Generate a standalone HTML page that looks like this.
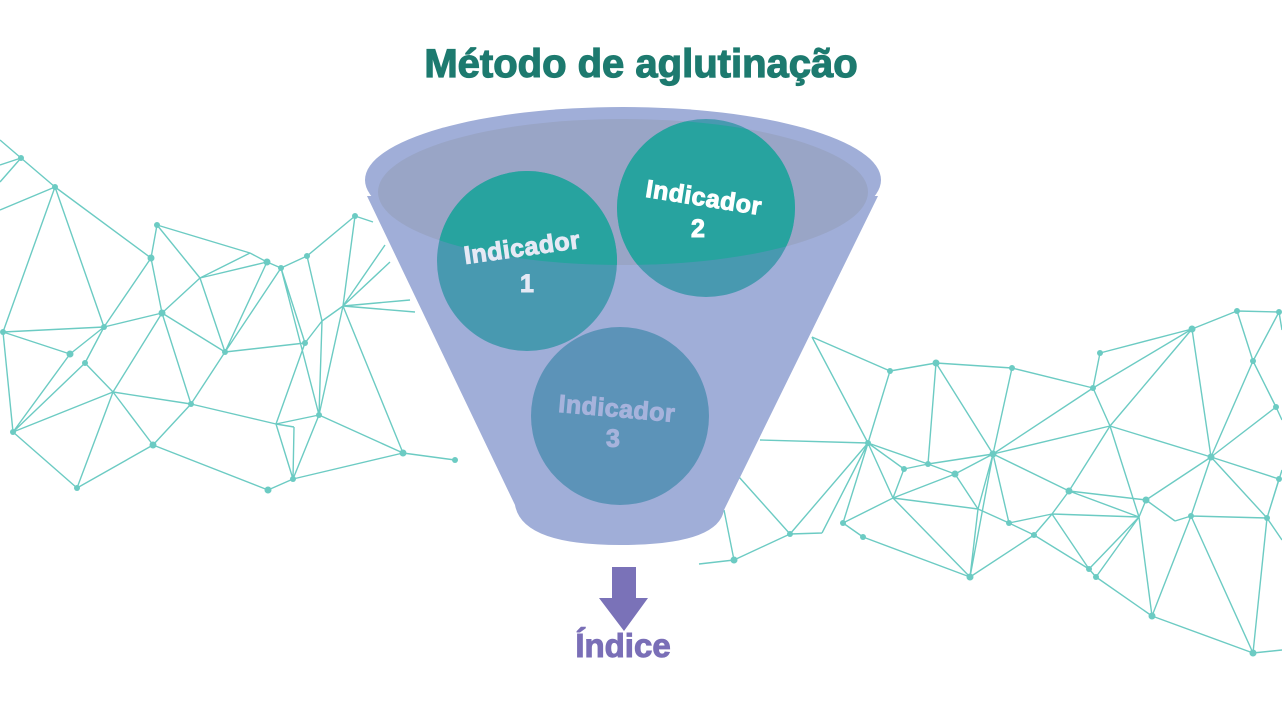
<!DOCTYPE html>
<html><head><meta charset="utf-8"><style>
html,body{margin:0;padding:0;background:#fff;width:1282px;height:720px;overflow:hidden}
svg{display:block}
</style></head><body>
<svg width="1282" height="720" viewBox="0 0 1282 720" xmlns="http://www.w3.org/2000/svg">
<defs>
<clipPath id="inner"><ellipse cx="623" cy="192" rx="245" ry="73"/></clipPath>
</defs>
<g stroke="#6ccbc3" stroke-width="1.4" fill="none">
<path d="M0,140L21,158M0,165L21,158M0,210L55,187M0,182L21,158M21,158L55,187
M55,187L151,258M55,187L3,332M55,187L104,327
M151,258L157,225M151,258L104,327M151,258L162,313M157,225L250,253M157,225L200,278
M200,278L250,253M200,278L162,313M200,278L267,262M200,278L225,352M250,253L267,262
M162,313L104,327M162,313L225,352M162,313L113,392M162,313L191,404
M104,327L3,332M104,327L70,354M104,327L85,363M3,332L70,354M3,332L13,432M70,354L13,432M85,363L13,432M85,363L113,392
M113,392L13,432M113,392L191,404M113,392L77,488M113,392L153,445M13,432L77,488M77,488L153,445M153,445L191,404M153,445L268,490
M191,404L225,352M191,404L276,424M225,352L267,262M225,352L281,268M225,352L305,343M267,262L281,268
M281,268L307,256M281,268L305,343M281,268L319,415M307,256L355,216M307,256L322,321M355,216L343,306M355,216L373,222
M322,321L343,306M305,343L322,321M305,343L276,424M322,321L319,415M343,306L319,415M276,424L319,415M276,424L294,427M294,427L293,479M276,424L293,479M319,415L293,479M293,479L268,490
M293,479L403,453M319,415L403,453M343,306L403,453M403,453L455,460M343,306L410,300M343,306L415,312M343,306L390,262M343,306L385,245"/>
<path d="M812,337L890,371M812,337L868,443M760,440L868,443M890,371L936,363M890,371L868,443M936,363L1012,368M936,363L928,464M936,363L993,454
M1012,368L1093,388M1012,368L993,454M1093,388L1100,353M1093,388L1192,329M1100,353L1192,329M1093,388L1110,426M1093,388L993,454
M1192,329L1237,311M1237,311L1279,312M1237,311L1253,361M1192,329L1110,426M1192,329L1211,457M1253,361L1211,457M1253,361L1276,407M1279,312L1253,361M1276,407L1211,457
M1110,426L993,454M1110,426L1211,457M1110,426L1069,491M1110,426L1139,517M1211,457L1279,479M1211,457L1267,518M1211,457L1191,516M1211,457L1146,500
M993,454L928,464M993,454L955,474M993,454L1069,491M993,454L978,509M993,454L1009,523M993,454L970,577
M868,443L904,469M868,443L928,464M868,443L893,498M868,443L843,523M868,443L822,533M868,443L790,534
M904,469L928,464M904,469L893,498M928,464L955,474M955,474L893,498M955,474L978,509M893,498L978,509M893,498L843,523M893,498L970,577
M978,509L970,577M978,509L1009,523M1009,523L1052,514M1009,523L1034,535M1052,514L1069,491M1052,514L1139,517M1052,514L1034,535M1052,514L1089,569
M1069,491L1146,500M1069,491L1139,517M1146,500L1139,517M1146,500L1175,521M1139,517L1089,569M1139,517L1096,577M1139,517L1152,616
M1175,521L1191,516M1191,516L1267,518M1191,516L1152,616M1191,516L1253,653M1267,518L1253,653M1267,518L1282,540M1279,479L1267,518
M1034,535L1089,569M970,577L863,537M970,577L1034,535M863,537L843,523M790,534L822,533M739,477L790,534M790,534L734,560M734,560L699,564M724,510L734,560
M1089,569L1096,577M1096,577L1152,616M1152,616L1253,653M1253,653L1282,650M1276,407L1282,420M1279,312L1282,330M1267,518L1282,470"/>
</g>
<g fill="#6ccbc3">
<circle cx="21" cy="158" r="3"/><circle cx="55" cy="187" r="3"/><circle cx="151" cy="258" r="3.5"/><circle cx="157" cy="225" r="3"/><circle cx="267" cy="262" r="3.5"/><circle cx="281" cy="268" r="3"/><circle cx="307" cy="256" r="3"/><circle cx="355" cy="216" r="3"/><circle cx="162" cy="313" r="3.5"/><circle cx="104" cy="327" r="3"/><circle cx="70" cy="354" r="3.5"/><circle cx="85" cy="363" r="3"/><circle cx="13" cy="432" r="3"/><circle cx="77" cy="488" r="3"/><circle cx="153" cy="445" r="3.5"/><circle cx="191" cy="404" r="3"/><circle cx="225" cy="352" r="3"/><circle cx="268" cy="490" r="3.5"/><circle cx="293" cy="479" r="3"/><circle cx="319" cy="415" r="3"/><circle cx="305" cy="343" r="3"/><circle cx="403" cy="453" r="3.5"/><circle cx="455" cy="460" r="3"/><circle cx="3" cy="332" r="3"/>
<circle cx="890" cy="371" r="3"/><circle cx="936" cy="363" r="3.5"/><circle cx="1012" cy="368" r="3"/><circle cx="1093" cy="388" r="3"/><circle cx="1100" cy="353" r="3"/><circle cx="1192" cy="329" r="3.5"/><circle cx="1237" cy="311" r="3"/><circle cx="1279" cy="312" r="3"/><circle cx="1253" cy="361" r="3"/><circle cx="1276" cy="407" r="3"/><circle cx="868" cy="443" r="3"/><circle cx="904" cy="469" r="3"/><circle cx="928" cy="464" r="3"/><circle cx="955" cy="474" r="3.5"/><circle cx="993" cy="454" r="3.5"/><circle cx="1069" cy="491" r="3.5"/><circle cx="1146" cy="500" r="3.5"/><circle cx="1211" cy="457" r="3.5"/><circle cx="1191" cy="516" r="3"/><circle cx="1267" cy="518" r="3"/><circle cx="1279" cy="479" r="3"/><circle cx="1009" cy="523" r="3"/><circle cx="1034" cy="535" r="3"/><circle cx="970" cy="577" r="3.5"/><circle cx="863" cy="537" r="3"/><circle cx="843" cy="523" r="3"/><circle cx="790" cy="534" r="3"/><circle cx="734" cy="560" r="3.5"/><circle cx="1089" cy="569" r="3"/><circle cx="1096" cy="577" r="3"/><circle cx="1152" cy="616" r="3.5"/><circle cx="1253" cy="653" r="3.5"/>
</g>
<path d="M367,196 L515,505 Q522,545 620,545 Q718,545 724,510 L878,196 Z" fill="#a0aed8"/>
<ellipse cx="623" cy="180" rx="258" ry="73" fill="#a0aed8"/>
<ellipse cx="623" cy="192" rx="245" ry="73" fill="#99a5c6"/>
<circle cx="620" cy="416" r="89" fill="#5c93b8"/>
<circle cx="527" cy="261" r="90" fill="#4899b0"/>
<circle cx="706" cy="208" r="89" fill="#4899b0"/>
<g clip-path="url(#inner)">
<circle cx="527" cy="261" r="90" fill="#27a39f"/>
<circle cx="706" cy="208" r="89" fill="#27a39f"/>
</g>
<g font-family="Liberation Sans, sans-serif" font-weight="bold" font-size="25" text-anchor="middle" stroke-width="1">
<text x="522" y="256" fill="#e6e9f5" stroke="#e6e9f5" transform="rotate(-8 522 247)" letter-spacing="0.5">Indicador</text>
<text x="527" y="292" fill="#e6e9f5" stroke="#e6e9f5">1</text>
<text x="704" y="206" fill="#ffffff" stroke="#ffffff" transform="rotate(9 704 197)" letter-spacing="0.5">Indicador</text>
<text x="698" y="237" fill="#ffffff" stroke="#ffffff">2</text>
<text x="617" y="417" fill="#a6b3dc" stroke="#a6b3dc" transform="rotate(5 617 408)" letter-spacing="0.5">Indicador</text>
<text x="613" y="447" fill="#a6b3dc" stroke="#a6b3dc">3</text>
</g>
<text x="641" y="77" font-family="Liberation Sans, sans-serif" font-weight="bold" font-size="40" fill="#1d7a6f" stroke="#1d7a6f" stroke-width="1.2" text-anchor="middle">Método de aglutinação</text>
<polygon points="612,567 636,567 636,598 648,598 624,631 599,598 612,598" fill="#7a72b8"/>
<text x="623" y="657" font-family="Liberation Sans, sans-serif" font-weight="bold" font-size="33" fill="#7a6fb7" stroke="#7a6fb7" stroke-width="1" text-anchor="middle">Índice</text>
</svg>
</body></html>
